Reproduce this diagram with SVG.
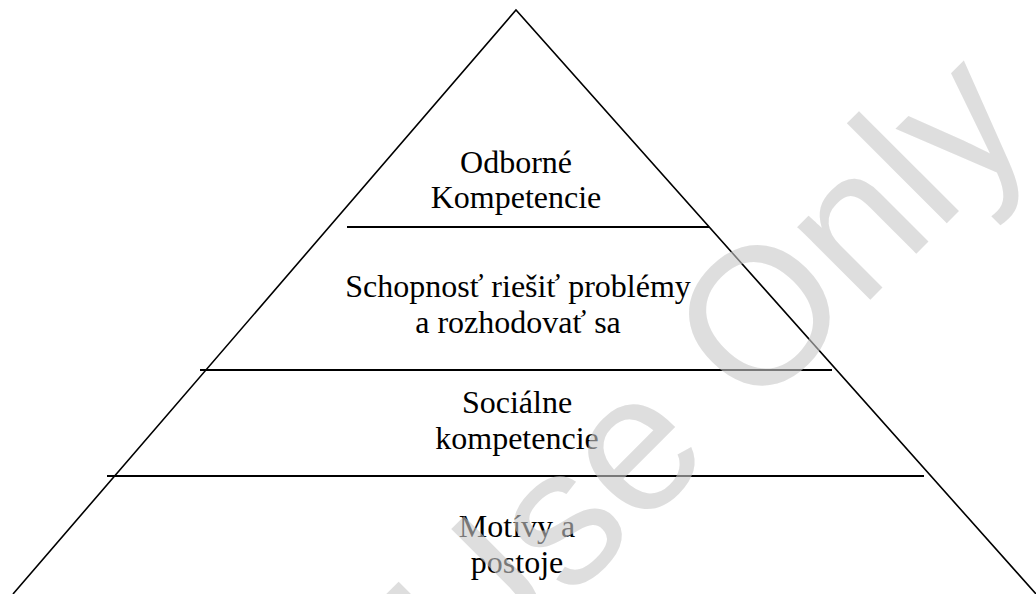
<svg xmlns="http://www.w3.org/2000/svg" width="1036" height="594" viewBox="0 0 1036 594">
<style>
.edge{stroke:#000;stroke-width:1.6;fill:none}
.div{stroke:#000;stroke-width:1.8;fill:none}
.lbl{font-family:"Liberation Serif","Times New Roman",serif;font-size:32px;fill:#000;text-anchor:middle}
.wm{font-family:"Liberation Sans",Arial,sans-serif;font-size:195px;fill:#c8c8c8;fill-opacity:0.6}
</style>
<rect width="1036" height="594" fill="#fff"/>
<g id="pyramid">
<polyline class="edge" points="13,594 516,10 1036,594"/>
<line class="div" x1="347" y1="227" x2="709" y2="227"/>
<line class="div" x1="200" y1="370" x2="832" y2="370"/>
<line class="div" x1="107" y1="476" x2="924" y2="476"/>
</g>
<g id="level1">
<text class="lbl" x="516" y="173">Odborné</text>
<text class="lbl" x="516" y="208">Kompetencie</text>
</g>
<g id="level2">
<text class="lbl" x="518" y="297">Schopnosť riešiť problémy</text>
<text class="lbl" x="518" y="333">a rozhodovať sa</text>
</g>
<g id="level3">
<text class="lbl" x="517" y="413">Sociálne</text>
<text class="lbl" x="517" y="449">kompetencie</text>
</g>
<g id="level4">
<text class="lbl" x="517" y="537">Motívy a</text>
<text class="lbl" x="517" y="573">postoje</text>
</g>
<g id="watermark">
<text class="wm" transform="translate(470,700) rotate(-45)">Use Only</text>
</g>
</svg>
